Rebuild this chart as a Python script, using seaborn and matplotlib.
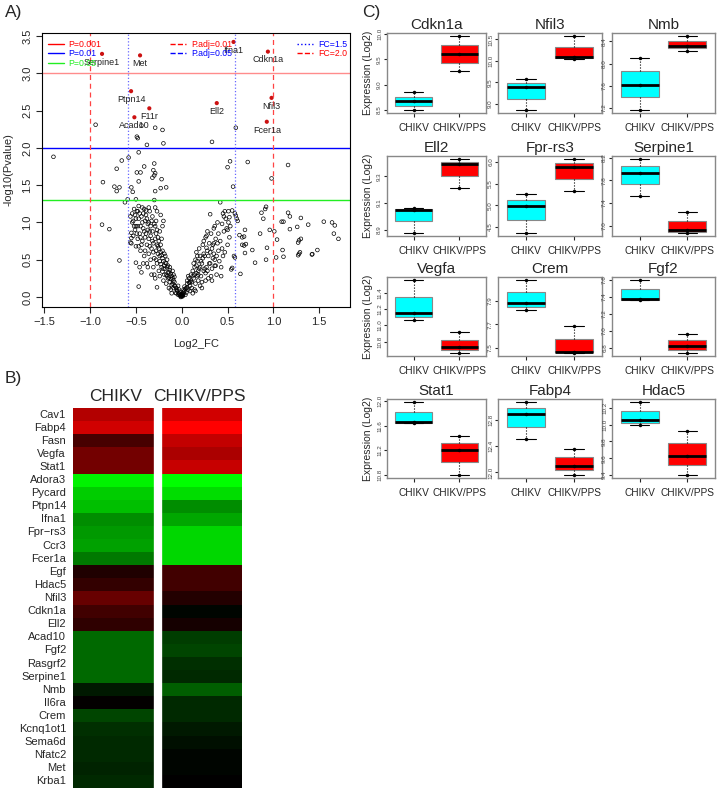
import numpy as np
import pandas as pd
import matplotlib
matplotlib.use('Agg')
import matplotlib.pyplot as plt
from matplotlib.colors import LinearSegmentedColormap
from matplotlib.lines import Line2D
import seaborn as sns

sns.set_style('white')
plt.rcParams['font.family'] = ['Liberation Sans', 'DejaVu Sans']

# ---------------- A) volcano data ----------------
# scattered points, left side
out_left_x = [-1.40, -0.94, -0.44, -0.29, -0.21, -0.49, -0.48, -0.38, -0.20, -0.47,
              -0.58, -0.655, -0.71, -0.41, -0.30, -0.49, -0.45, -0.31, -0.30, -0.32,
              -0.29, -0.22, -0.47, -0.86, -0.735, -0.68, -0.71, -0.55, -0.535, -0.29,
              -0.23, -0.17, -0.62, -0.59, -0.50, -0.30, -0.87, -0.79, -0.68, -0.50,
              -0.47, -0.27, -0.55, -0.55, -0.56]
out_left_y = [1.88, 2.31, 2.30, 2.27, 2.24, 2.15, 2.13, 2.04, 2.06, 1.94,
              1.87, 1.83, 1.72, 1.75, 1.79, 1.67, 1.67, 1.70, 1.63, 1.60,
              1.66, 1.58, 1.55, 1.54, 1.48, 1.47, 1.42, 1.47, 1.41, 1.42,
              1.46, 1.47, 1.27, 1.31, 1.31, 1.30, 0.97, 0.91, 0.49, 0.46,
              0.14, 0.13, 0.86, 0.79, 0.73]
# scattered points, right side
out_right_x = [0.33, 0.59, 0.527, 0.50, 0.72, 1.16, 0.98, 0.56, 0.42, 0.92,
               0.91, 0.87, 0.89, 0.47, 0.51, 0.55, 0.31, 0.52, 0.58, 0.59,
               0.60, 0.61, 1.16, 1.18, 1.09, 1.11, 1.30, 1.55, 1.64, 1.67,
               1.38, 1.26, 1.18, 0.96, 1.01, 1.66, 1.71, 1.30, 1.28, 1.27,
               1.04, 0.855, 0.69, 0.63, 0.66, 0.68, 0.66, 0.68, 0.70, 0.77,
               0.93, 0.69, 1.10, 1.29, 1.28, 1.27, 1.48, 1.11, 1.03, 0.92,
               0.80, 0.64, 0.58, 0.57, 0.55, 0.54, 0.43, 1.42, 1.425, 0.36]
out_right_y = [2.08, 2.27, 1.82, 1.74, 1.81, 1.77, 1.59, 1.48, 1.27, 1.21,
               1.18, 1.13, 1.05, 1.15, 1.15, 1.16, 1.11, 1.07, 1.12, 1.09,
               1.05, 1.02, 1.13, 1.08, 1.01, 1.01, 1.06, 1.01, 1.00, 0.96,
               0.97, 0.94, 0.91, 0.90, 0.88, 0.85, 0.78, 0.78, 0.76, 0.73,
               0.77, 0.85, 0.90, 0.83, 0.80, 0.81, 0.70, 0.69, 0.71, 0.63,
               0.66, 0.59, 0.63, 0.60, 0.58, 0.56, 0.63, 0.54, 0.53, 0.50,
               0.46, 0.31, 0.53, 0.55, 0.39, 0.37, 0.28, 0.57, 0.575, 0.42]
# dense left arm
arm_left_x = [-0.02, -0.03, -0.04, -0.05, -0.03, -0.06, -0.04, -0.07, -0.01, -0.02,
              -0.08, -0.09, -0.10, -0.11, -0.12, -0.09, -0.10, -0.11, -0.12, -0.08,
              -0.13, -0.14, -0.15, -0.16, -0.17, -0.18, -0.14, -0.16, -0.13, -0.17, -0.15, -0.18,
              -0.19, -0.20, -0.21, -0.22, -0.23, -0.24, -0.25, -0.20, -0.22, -0.24, -0.21, -0.23, -0.25, -0.19,
              -0.21, -0.23, -0.24, -0.20, -0.27, -0.29,
              -0.26, -0.27, -0.28, -0.29, -0.30, -0.31, -0.32, -0.26, -0.28, -0.30, -0.27, -0.31, -0.29, -0.32, -0.28,
              -0.33, -0.34, -0.35, -0.36, -0.37, -0.38, -0.39, -0.40, -0.34, -0.36, -0.38, -0.35, -0.39, -0.33, -0.37, -0.40, -0.36,
              -0.41, -0.42, -0.43, -0.44, -0.45, -0.46, -0.47, -0.48, -0.42, -0.44, -0.46, -0.43, -0.45, -0.47, -0.41, -0.48,
              -0.49, -0.50, -0.51, -0.52, -0.53, -0.54, -0.55, -0.50, -0.52, -0.56,
              -0.03, -0.05, -0.06, -0.07, -0.08, -0.09, -0.10, -0.11, -0.12, -0.13,
              -0.14, -0.15, -0.16, -0.17, -0.18, -0.19, -0.20, -0.21, -0.22, -0.23,
              -0.24, -0.25, -0.26, -0.27, -0.28, -0.29, -0.30, -0.31, -0.32, -0.33,
              -0.34, -0.35, -0.36, -0.37, -0.38, -0.39, -0.40, -0.41, -0.42, -0.43,
              -0.44, -0.45, -0.46, -0.47, -0.48, -0.49, -0.50, -0.51, -0.53, -0.54]
arm_left_y = [0.02, 0.05, 0.03, 0.08, 0.10, 0.12, 0.15, 0.06, 0.01, 0.07,
              0.15, 0.22, 0.18, 0.28, 0.10, 0.30, 0.35, 0.05, 0.24, 0.27,
              0.20, 0.33, 0.42, 0.28, 0.45, 0.38, 0.12, 0.50, 0.40, 0.18, 0.25, 0.55,
              0.30, 0.48, 0.62, 0.40, 0.70, 0.55, 0.35, 0.22, 0.78, 0.28, 0.52, 0.44, 0.65, 0.58,
              0.95, 1.10, 0.88, 1.02, 1.15, 1.20,
              0.80, 0.45, 0.62, 0.95, 0.30, 0.72, 0.88, 0.58, 1.02, 0.52, 0.70, 0.40, 0.25, 1.08, 0.85,
              0.65, 0.95, 1.15, 0.78, 0.40, 1.05, 0.85, 0.62, 0.50, 1.20, 0.70, 0.88, 1.10, 0.30, 0.98, 0.80, 0.58,
              1.18, 0.92, 0.75, 1.08, 0.62, 0.85, 1.22, 0.95, 0.45, 0.33, 1.12, 1.00, 0.80, 0.68, 0.55, 0.78,
              1.15, 1.05, 0.90, 1.18, 0.82, 1.00, 0.72, 0.68, 0.95, 1.08,
              0.04, 0.09, 0.05, 0.14, 0.20, 0.12, 0.25, 0.16, 0.31, 0.36,
              0.26, 0.33, 0.40, 0.30, 0.46, 0.42, 0.38, 0.34, 0.56, 0.60,
              0.48, 0.75, 0.68, 0.90, 0.50, 0.78, 0.98, 0.60, 0.75, 1.02,
              0.82, 0.68, 1.00, 0.90, 0.45, 1.16, 1.02, 0.88, 1.12, 1.20,
              0.70, 0.95, 0.40, 1.05, 1.15, 0.85, 0.95, 1.10, 1.02, 1.12]
# dense right arm
arm_right_x = [-0.01, 0.00, 0.01, -0.015, 0.015, 0.0, -0.005, 0.005,
               0.01, 0.02, 0.03, 0.04, 0.05, 0.03, 0.02, 0.05,
               0.06, 0.07, 0.08, 0.09, 0.10, 0.11, 0.12, 0.07, 0.09, 0.11,
               0.13, 0.14, 0.15, 0.16, 0.17, 0.18, 0.19, 0.20, 0.14, 0.16, 0.18, 0.20, 0.15, 0.19,
               0.21, 0.22, 0.23, 0.24, 0.25, 0.26, 0.27, 0.28, 0.29, 0.30, 0.22, 0.24, 0.26, 0.28, 0.30,
               0.31, 0.32, 0.33, 0.34, 0.35, 0.36, 0.37, 0.38, 0.39, 0.40, 0.33, 0.36, 0.38, 0.40,
               0.42, 0.44, 0.45, 0.46, 0.48, 0.50, 0.43, 0.47, 0.49, 0.52, 0.45, 0.51,
               0.02, 0.04, 0.06, 0.08, 0.10, 0.12, 0.14, 0.16, 0.18, 0.20,
               0.21, 0.23, 0.25, 0.27, 0.29, 0.31, 0.33, 0.35, 0.37, 0.39,
               0.12, 0.15, 0.17, 0.22, 0.26, 0.28, 0.32, 0.34, 0.41, 0.44,
               0.06, 0.09, 0.13, 0.17, 0.24, 0.27, 0.35, 0.46, 0.50, 0.53]
arm_right_y = [0.00, 0.01, 0.01, 0.03, 0.03, 0.02, 0.04, 0.04,
               0.02, 0.05, 0.08, 0.03, 0.12, 0.14, 0.10, 0.06,
               0.18, 0.10, 0.25, 0.15, 0.30, 0.20, 0.35, 0.28, 0.08, 0.12,
               0.25, 0.40, 0.18, 0.32, 0.48, 0.22, 0.38, 0.55, 0.10, 0.60, 0.30, 0.15, 0.50, 0.65,
               0.28, 0.45, 0.70, 0.35, 0.55, 0.80, 0.40, 0.62, 0.25, 0.72, 0.20, 0.58, 0.32, 0.88, 0.45,
               0.60, 0.85, 0.38, 0.70, 0.92, 0.50, 0.78, 0.30, 1.00, 0.62, 0.22, 0.95, 0.55, 0.85,
               0.75, 0.98, 0.55, 0.88, 1.05, 0.70, 0.40, 0.60, 0.92, 0.80, 1.12, 1.00,
               0.07, 0.11, 0.13, 0.19, 0.22, 0.28, 0.30, 0.42, 0.35, 0.40,
               0.48, 0.52, 0.38, 0.66, 0.55, 0.45, 0.65, 0.58, 0.42, 0.72,
               0.05, 0.08, 0.28, 0.12, 0.22, 0.35, 0.28, 0.52, 0.48, 0.65,
               0.22, 0.20, 0.45, 0.55, 0.75, 0.82, 0.72, 1.08, 0.90, 0.95]

# significant (labelled) genes
sig_genes = ['Serpine1', 'Met', 'Ifna1', 'Cdkn1a', 'Ptpn14', 'F11r', 'Acad10', 'Ell2', 'Nfil3', 'Fcer1a']
sig_x = [-0.87, -0.455, 0.565, 0.94, -0.553, -0.354, -0.517, 0.382, 0.98, 0.928]
sig_y = [3.26, 3.24, 3.42, 3.29, 2.76, 2.53, 2.41, 2.60, 2.67, 2.35]

p_cut = [0.001, 0.01, 0.05]
p_labels = ['P=0.001', 'P=0.01', 'P=0.05']
padj_labels = ['P.adj=0.01', 'P.adj=0.05']
fc_cut = [1.5, 2.0]
fc_labels = ['FC=1.5', 'FC=2.0']

# ---------------- B) heatmap data ----------------
hm_genes = ['Cav1', 'Fabp4', 'Fasn', 'Vegfa', 'Stat1', 'Adora3', 'Pycard', 'Ptpn14', 'Ifna1',
            'Fpr\u2212rs3', 'Ccr3', 'Fcer1a', 'Egf', 'Hdac5', 'Nfil3', 'Cdkn1a', 'Ell2', 'Acad10',
            'Fgf2', 'Rasgrf2', 'Serpine1', 'Nmb', 'Il6ra', 'Crem', 'Kcnq1ot1', 'Sema6d', 'Nfatc2',
            'Met', 'Krba1']
hm_chikv = [0.70, 0.82, 0.28, 0.45, 0.45, -0.95, -0.80, -0.75, -0.55,
            -0.60, -0.63, -0.47, 0.12, 0.20, 0.40, 0.25, 0.18, -0.41,
            -0.41, -0.41, -0.41, -0.10, 0.01, -0.27, -0.18, -0.16, -0.16,
            -0.14, -0.16]
hm_pps = [0.82, 1.00, 0.76, 0.67, 0.78, -1.00, -0.86, -0.55, -0.65,
          -0.84, -0.84, -0.84, 0.25, 0.25, 0.14, -0.02, 0.08, -0.24,
          -0.27, -0.18, -0.16, -0.37, -0.16, -0.16, -0.10, -0.06, -0.02,
          -0.02, 0.0]

# ---------------- C) box plot data ----------------
box_genes = ['Cdkn1a', 'Nfil3', 'Nmb', 'Ell2', 'Fpr-rs3', 'Serpine1',
             'Vegfa', 'Crem', 'Fgf2', 'Stat1', 'Fabp4', 'Hdac5']
box_chikv = [[8.50, 8.67, 8.85], [8.85, 9.38, 9.57], [7.16, 7.62, 8.10],
             [8.875, 9.05, 9.06], [4.36, 4.98, 5.25], [7.52, 7.94, 8.18],
             [11.07, 11.15, 11.56], [7.82, 7.88, 8.08], [7.36, 7.375, 7.60],
             [11.65, 11.66, 11.99], [12.50, 12.88, 13.07], [9.99, 10.05, 10.27]]
box_pps = [[9.27, 9.60, 9.96], [10.05, 10.08, 10.58], [8.23, 8.32, 8.50],
           [9.21, 9.39, 9.43], [5.33, 5.89, 6.07], [6.87, 6.92, 7.24],
           [10.66, 10.73, 10.92], [7.455, 7.465, 7.69], [6.74, 6.82, 6.96],
           [10.80, 11.21, 11.44], [11.96, 12.10, 12.36], [9.40, 9.63, 9.93]]
box_ticks = [[8.5, 9.0, 9.5, 10.0], [9.0, 9.5, 10.0, 10.5], [7.2, 7.6, 8.0, 8.4],
             [8.9, 9.1, 9.3], [4.5, 5.0, 5.5, 6.0], [7.0, 7.4, 7.8, 8.2],
             [10.8, 11.0, 11.2, 11.4], [7.5, 7.7, 7.9], [6.8, 7.0, 7.2, 7.4, 7.6],
             [10.8, 11.2, 11.6, 12.0], [12.0, 12.4, 12.8], [9.4, 9.6, 9.8, 10.0, 10.2]]
groups = ['CHIKV', 'CHIKV/PPS']
group_colors = {'CHIKV': '#00FFFF', 'CHIKV/PPS': '#FF0000'}

# ---------------- figure ----------------
W, H = 717, 790
fig = plt.figure(figsize=(W / 100, H / 100), dpi=100)


def add_ax(l, t, r, b):
    return fig.add_axes([l / W, 1 - b / H, (r - l) / W, (b - t) / H])


# A) volcano
axA = add_ax(42, 33, 350, 307)
all_x = out_left_x + out_right_x + arm_left_x + arm_right_x
all_y = out_left_y + out_right_y + arm_left_y + arm_right_y
sns.scatterplot(x=all_x, y=all_y, ax=axA, marker='o', s=7, facecolors='none',
                edgecolor='black', linewidth=0.5)
sns.scatterplot(x=sig_x, y=sig_y, ax=axA, s=9, color='#cc1111', edgecolor='none')
for g, x, y in zip(sig_genes, sig_x, sig_y):
    axA.annotate(g, (x, y), xytext=(0, -6), textcoords='offset points',
                 ha='center', va='center', fontsize=6.5, color='#222222')

axA.axhline(-np.log10(p_cut[0]), color='red', alpha=0.45, lw=1)
axA.axhline(-np.log10(p_cut[1]), color='blue', lw=1)
axA.axhline(-np.log10(p_cut[2]), color='#22ee22', lw=1)
for fc in fc_cut:
    ls, col = (':', '#6666ff') if fc == 1.5 else ((0, (4, 3)), '#ff4444')
    axA.axvline(np.log2(fc), color=col, ls=ls, lw=0.9)
    axA.axvline(-np.log2(fc), color=col, ls=ls, lw=0.9)

axA.set_xlim(-1.525, 1.836)
axA.set_ylim(-0.134, 3.54)
axA.set_xticks(np.arange(-1.5, 1.6, 0.5))
axA.set_xticklabels(['\u22121.5', '\u22121.0', '\u22120.5', '0.0', '0.5', '1.0', '1.5'])
axA.set_yticks(np.arange(0, 3.6, 0.5))
axA.set_yticklabels(['%.1f' % v for v in np.arange(0, 3.6, 0.5)], rotation=90, va='center')
axA.tick_params(direction='out', length=4, width=0.8, labelsize=8, left=True, bottom=True, pad=3)
for s in axA.spines.values():
    s.set_color('black')
    s.set_linewidth(0.8)
axA.set_xlabel('Log2_FC', fontsize=8, labelpad=9)
axA.set_ylabel('-log10(Pvalue)', fontsize=8, labelpad=6)

leg_kw = dict(frameon=False, fontsize=6.3, handlelength=1.9, handletextpad=0.5,
              labelspacing=0.05, borderaxespad=0, borderpad=0)
h1 = [Line2D([], [], color=c, lw=1) for c in ['red', 'blue', '#22ee22']]
leg1 = axA.legend(h1, p_labels, loc='upper left', bbox_to_anchor=(0.018, 0.975),
                  labelcolor=['red', 'blue', '#22ee22'], **leg_kw)
axA.add_artist(leg1)
h2 = [Line2D([], [], color=c, lw=1, ls='--') for c in ['red', 'blue']]
leg2 = axA.legend(h2, padj_labels, loc='upper left', bbox_to_anchor=(0.415, 0.975),
                  labelcolor=['red', 'blue'], **leg_kw)
axA.add_artist(leg2)
h3 = [Line2D([], [], color='blue', lw=1, ls=':'), Line2D([], [], color='red', lw=1, ls='--')]
axA.legend(h3, fc_labels, loc='upper right', bbox_to_anchor=(0.99, 0.975),
           labelcolor=['blue', 'red'], **leg_kw)

# B) heatmap
rg_cmap = LinearSegmentedColormap.from_list('rg', ['#00ff00', '#000000', '#ff0000'])
hm_df = pd.DataFrame({'CHIKV': hm_chikv, 'CHIKV/PPS': hm_pps}, index=hm_genes)
axB = add_ax(73, 408, 242, 788)
sns.heatmap(hm_df, ax=axB, cmap=rg_cmap, vmin=-1, vmax=1, cbar=False,
            xticklabels=True, yticklabels=True)
axB.axvline(1, color='white', lw=6)
axB.xaxis.tick_top()
axB.tick_params(length=0, pad=3)
axB.set_xticklabels(hm_df.columns, fontsize=12.5, rotation=0)
axB.set_yticklabels(hm_genes, fontsize=8, rotation=0)
axB.tick_params(axis='y', pad=5)

# C) box plots
col_px = [(387, 486), (498, 602), (612, 715)]
row_px = [(33, 113), (156, 236), (277, 356), (399, 478)]
for i, gene in enumerate(box_genes):
    r, c = divmod(i, 3)
    ax = add_ax(col_px[c][0], row_px[r][0], col_px[c][1], row_px[r][1])
    df = pd.DataFrame({'group': ['CHIKV'] * 3 + ['CHIKV/PPS'] * 3,
                       'expr': box_chikv[i] + box_pps[i]})
    sns.boxplot(data=df, x='group', y='expr', hue='group', order=groups, hue_order=groups,
                palette=group_colors, saturation=1, width=0.8, whis=(0, 100), fliersize=0,
                legend=False, linecolor='black', linewidth=0.8, ax=ax,
                medianprops=dict(linewidth=2, color='black'),
                whiskerprops=dict(linestyle=':', color='black'),
                capprops=dict(color='black'))
    for p in ax.patches:
        p.set_edgecolor('#888888')
    sns.stripplot(data=df, x='group', y='expr', order=groups, color='black', size=2.5,
                  jitter=False, ax=ax)
    ax.set_xlim(-0.58, 1.58)
    ax.margins(y=0.04)
    ax.set_yticks(box_ticks[i])
    ax.set_yticklabels([str(t) for t in box_ticks[i]], rotation=90, va='center',
                       fontsize=4.5, color='#444444')
    ax.tick_params(axis='x', labelsize=7.3, length=3, pad=4, bottom=True)
    ax.tick_params(axis='y', length=2, pad=1.5, left=True)
    ax.set_xlabel('')
    ax.set_ylabel('Expression (Log2)' if c == 0 else '', fontsize=7.5, labelpad=3)
    ax.set_title(gene, fontsize=11, pad=3)
    for s in ax.spines.values():
        s.set_color('#888888')
        s.set_linewidth(1)

fig.text(5 / W, 1 - 12 / H, 'A)', fontsize=12.5, va='center', ha='left')
fig.text(5 / W, 1 - 378 / H, 'B)', fontsize=12.5, va='center', ha='left')
fig.text(362 / W, 1 - 12 / H, 'C)', fontsize=12.5, va='center', ha='left')

fig.savefig('out.png', dpi=100)
